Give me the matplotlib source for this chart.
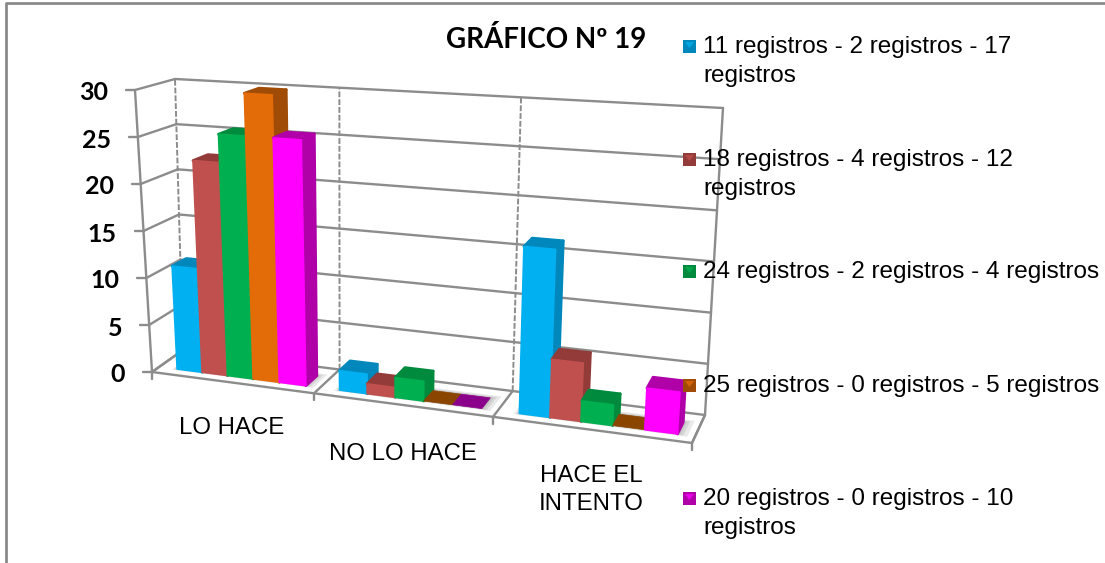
#Grafico 19 - pseudo 3D clustered columns, excel style
import matplotlib
matplotlib.use("Agg")
import matplotlib.pyplot as plt
from matplotlib.patches import Polygon, Rectangle

categories = ["LO HACE", "NO LO HACE", "HACE EL\nINTENTO"]
series_names = ["11 registros - 2 registros - 17\nregistros",
                "18 registros - 4 registros - 12\nregistros",
                "24 registros - 2 registros - 4 registros",
                "25 registros - 0 registros - 5 registros",
                "20 registros - 0 registros - 10\nregistros"]
serie1 = [11, 2, 16.5]
serie2 = [22.5, 1, 5.7]
serie3 = [25.5, 2, 2]
serie4 = [30, 0, 0]
serie5 = [25.5, 0, 4]
y_ticks = [0, 5, 10, 15, 20, 25, 30]

front_colors = ["#00B0F0", "#C0504D", "#00B050", "#E36C09", "#FF00FF"]
side_colors = ["#0088BC", "#923B39", "#008A3E", "#A04C06", "#B000A8"]
zero_colors = ["#0088BC", "#923B39", "#008A3E", "#8A4500", "#8B008B"]

grid = "#8C8C8C"

# corners of the box in pixels: (front/back, left/right, 0/30)
FL0, FL30 = (152, 372), (135, 90)
FR0, FR30 = (692, 443), (712, 125)
BL0, BL30 = (183, 350), (175, 79)
BR0, BR30 = (705, 415), (723, 108)
ymax = 30.0
k = 0.857   # perspective along the category axis


def project(u, v, h):
    # u category position 0..3, v depth 0..1, h value
    t = u / 3.0
    s = k * t / (1 + (k - 1) * t)
    w = h / ymax
    out = []
    for i in range(2):
        f0 = FL0[i] + (FR0[i] - FL0[i]) * s
        f1 = FL30[i] + (FR30[i] - FL30[i]) * s
        b0 = BL0[i] + (BR0[i] - BL0[i]) * s
        b1 = BL30[i] + (BR30[i] - BL30[i]) * s
        a = f0 + (f1 - f0) * w
        c = b0 + (b1 - b0) * w
        out.append(a + (c - a) * v)
    return out


def line(ax, p, q, **kw):
    kw.setdefault("color", grid)
    kw.setdefault("lw", 1.7)
    ax.plot([p[0], q[0]], [p[1], q[1]], solid_capstyle="round", **kw)


fig = plt.figure(figsize=(11.05, 5.63), dpi=100)
ax = fig.add_axes([0, 0, 1, 1])
ax.set_xlim(0, 1105)
ax.set_ylim(563, 0)
ax.axis("off")

# outer frame of the chart
ax.plot([6, 6, 1105], [563, 2.5, 2.5], color="#8A8A8A", lw=2)

# walls and grid
for t in y_ticks:
    front = project(0, 0, t)
    back = project(0, 1, t)
    right = project(3, 1, t)
    line(ax, front, back)
    line(ax, back, right)
    line(ax, (front[0] - 9, front[1]), front)
    ax.text(front[0] - 27, front[1] + 3, str(t), ha="right", va="center",
            family="Lato", fontweight="bold", fontsize=18, color="black")
line(ax, project(0, 0, 0), project(0, 0, 30))
line(ax, project(3, 1, 0), project(3, 1, 30))
for c in range(3):
    line(ax, project(c, 1, 0), project(c, 1, 30), ls=(0, (3, 1)), lw=1.4)

# floor
line(ax, project(0, 0, 0), project(3, 0, 0))
line(ax, project(3, 0, 0), project(3, 1, 0))
for c in range(4):
    line(ax, project(c, 0, 0), project(c, 1, 0))
    p = project(c, 0, 0)
    line(ax, p, (p[0], p[1] + 7))

# columns
values = [serie1, serie2, serie3, serie4, serie5]
gap = 0.115
width = 0.16
v0, v1 = 0.24, 0.66

# soft shadow on the floor
for c in range(3):
    for grow in [0.05, 0.03, 0.015]:
        a = c + gap - grow / 2
        b = c + gap + 5 * width + grow
        ax.add_patch(Polygon([project(a, v0 - grow, 0), project(b, v0 - grow, 0),
                              project(b, v1 + grow * 2, 0), project(a, v1 + grow * 2, 0)],
                             fc="#555555", ec="none", alpha=0.13, zorder=2))

z = 3
for c in range(3):
    for n in range(5):
        h = values[n][c]
        a = c + gap + n * width
        b = a + width
        if h == 0:
            pts = [project(a, v0, 0), project(b, v0, 0), project(b, v1, 0), project(a, v1, 0)]
            ax.add_patch(Polygon(pts, fc=zero_colors[n], ec=zero_colors[n], lw=0.5, zorder=z))
            z += 1
            continue
        side = [project(b, v0, 0), project(b, v1, 0), project(b, v1, h), project(b, v0, h)]
        top = [project(a, v0, h), project(b, v0, h), project(b, v1, h), project(a, v1, h)]
        face = [project(a, v0, 0), project(b, v0, 0), project(b, v0, h), project(a, v0, h)]
        ax.add_patch(Polygon(side, fc=side_colors[n], ec=side_colors[n], lw=2,
                             joinstyle="round", zorder=z))
        ax.add_patch(Polygon(top, fc=side_colors[n], ec=side_colors[n], lw=2,
                             joinstyle="round", zorder=z))
        ax.add_patch(Polygon(face, fc=front_colors[n], ec=front_colors[n], lw=1.2,
                             joinstyle="round", zorder=z))
        z += 1

# category labels
cat_pos = [(232, 428), (403, 454), (591, 490)]
for name, pos in zip(categories, cat_pos):
    ax.text(pos[0], pos[1], name, ha="center", va="center", family="Liberation Sans",
            fontsize=17.3, linespacing=1.33, color="black", zorder=50)

ax.text(546, 40, "GRÁFICO Nº 19", ha="center", va="center", family="Lato",
        fontweight="bold", fontsize=20, color="black", zorder=50)

# legend
legend_y = [46, 159, 271, 385, 498]
for n in range(5):
    ly = legend_y[n]
    ax.add_patch(Rectangle((683, ly - 6), 13, 13, fc=side_colors[n], ec="none", zorder=40))
    ax.add_patch(Polygon([(685, ly - 4), (694, ly - 4), (689.5, ly + 2)], fc=front_colors[n],
                         ec="none", alpha=0.75, zorder=41))
    ax.text(703, ly - 10, series_names[n], ha="left", va="top", family="Liberation Sans",
            fontsize=17.5, linespacing=1.4, color="black", zorder=50)

fig.savefig("out.png", dpi=100)
